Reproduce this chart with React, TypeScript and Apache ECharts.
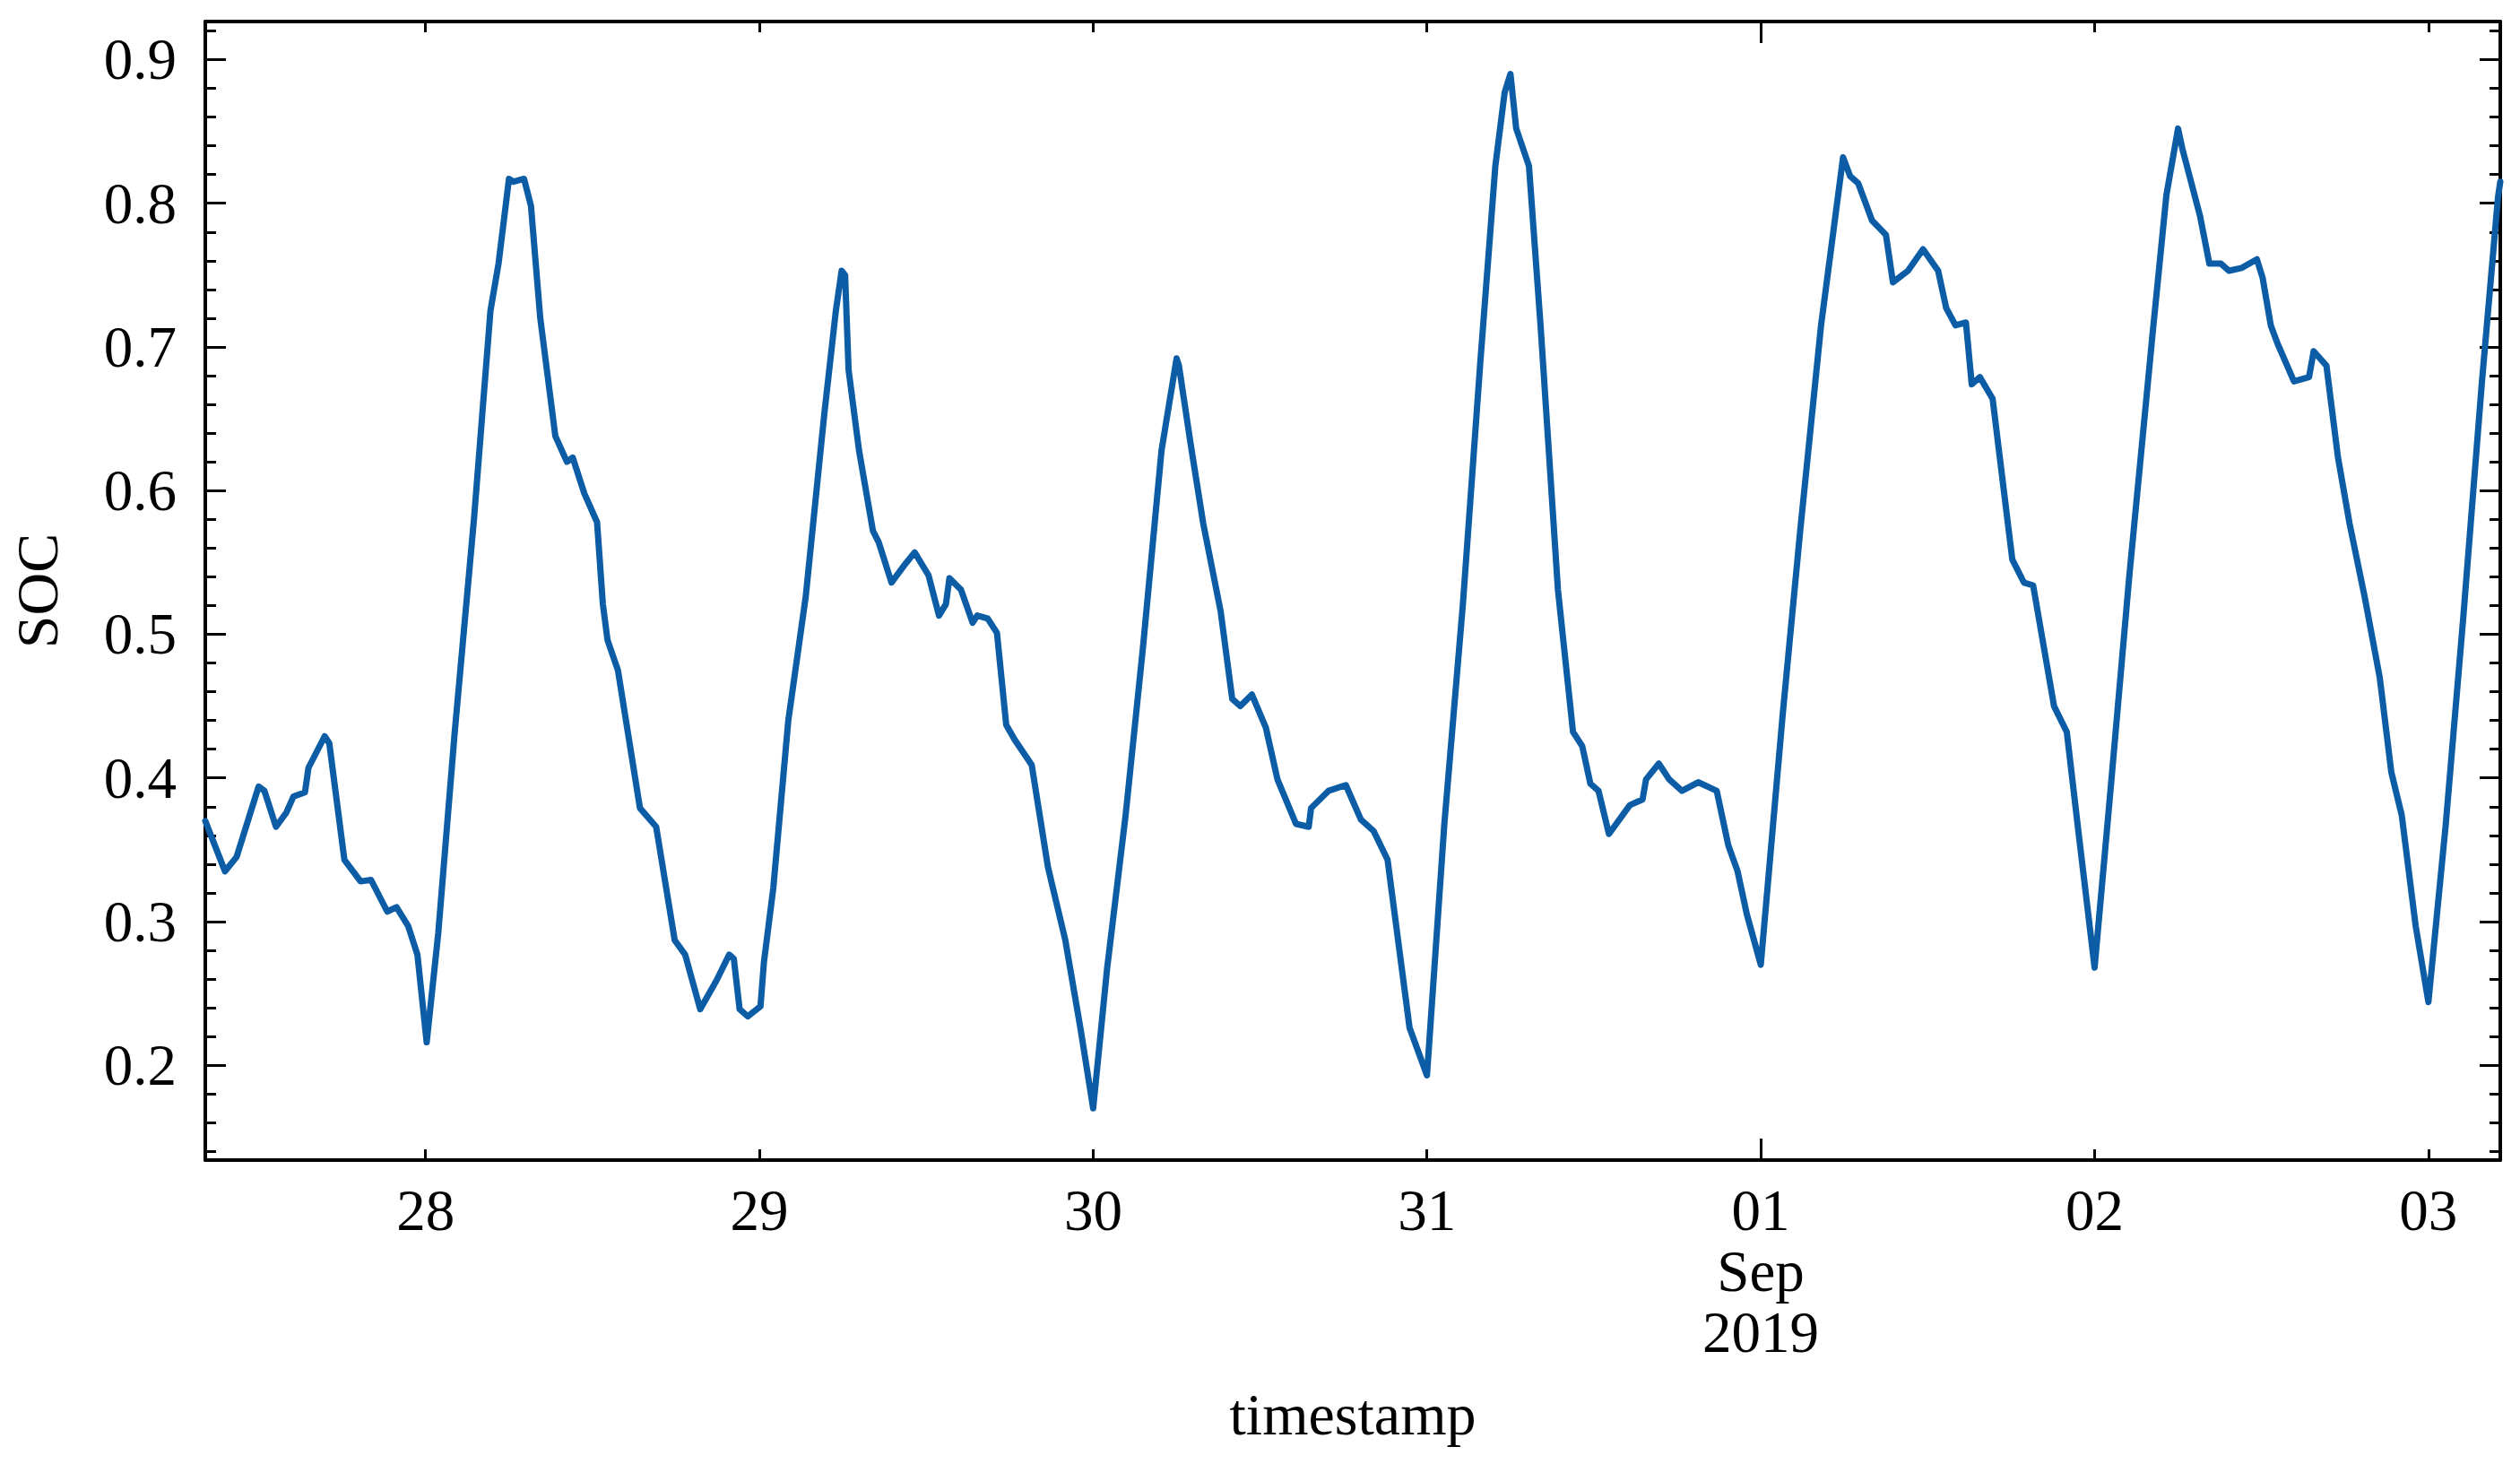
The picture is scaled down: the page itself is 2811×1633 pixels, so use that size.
import React, { useEffect, useRef } from "react";
import * as echarts from "echarts";

const times: string[] = [
  "2019-08-27 08:10", "2019-08-27 09:35", "2019-08-27 10:25", "2019-08-27 12:00", "2019-08-27 12:25",
  "2019-08-27 13:15", "2019-08-27 14:00", "2019-08-27 14:30", "2019-08-27 15:20", "2019-08-27 15:35",
  "2019-08-27 16:45", "2019-08-27 17:05", "2019-08-27 18:10", "2019-08-27 19:20", "2019-08-27 20:05",
  "2019-08-27 21:15", "2019-08-27 21:55", "2019-08-27 22:45", "2019-08-27 23:25", "2019-08-28 00:05",
  "2019-08-28 00:55", "2019-08-28 02:05", "2019-08-28 03:30", "2019-08-28 04:40", "2019-08-28 05:15",
  "2019-08-28 06:00", "2019-08-28 06:20", "2019-08-28 07:05", "2019-08-28 07:35", "2019-08-28 08:15",
  "2019-08-28 09:20", "2019-08-28 10:10", "2019-08-28 10:35", "2019-08-28 11:25", "2019-08-28 12:20",
  "2019-08-28 12:45", "2019-08-28 13:05", "2019-08-28 13:50", "2019-08-28 15:25", "2019-08-28 16:35",
  "2019-08-28 17:55", "2019-08-28 18:40", "2019-08-28 19:45", "2019-08-28 20:55", "2019-08-28 21:50",
  "2019-08-28 22:10", "2019-08-28 22:35", "2019-08-28 23:10", "2019-08-29 00:05", "2019-08-29 00:20",
  "2019-08-29 01:00", "2019-08-29 02:05", "2019-08-29 03:20", "2019-08-29 04:40", "2019-08-29 05:30",
  "2019-08-29 05:55", "2019-08-29 06:10", "2019-08-29 06:25", "2019-08-29 07:10", "2019-08-29 08:10",
  "2019-08-29 08:35", "2019-08-29 09:30", "2019-08-29 10:30", "2019-08-29 11:10", "2019-08-29 12:10",
  "2019-08-29 12:55", "2019-08-29 13:25", "2019-08-29 13:40", "2019-08-29 14:30", "2019-08-29 15:20",
  "2019-08-29 15:40", "2019-08-29 16:25", "2019-08-29 17:05", "2019-08-29 17:45", "2019-08-29 18:20",
  "2019-08-29 19:35", "2019-08-29 20:45", "2019-08-29 22:00", "2019-08-29 23:05", "2019-08-30 00:00",
  "2019-08-30 01:00", "2019-08-30 02:20", "2019-08-30 03:35", "2019-08-30 04:55", "2019-08-30 06:00",
  "2019-08-30 06:10", "2019-08-30 07:00", "2019-08-30 07:55", "2019-08-30 09:10", "2019-08-30 10:00",
  "2019-08-30 10:35", "2019-08-30 11:25", "2019-08-30 12:25", "2019-08-30 13:15", "2019-08-30 14:35",
  "2019-08-30 15:30", "2019-08-30 15:40", "2019-08-30 16:55", "2019-08-30 18:10", "2019-08-30 19:15",
  "2019-08-30 20:10", "2019-08-30 21:10", "2019-08-30 22:45", "2019-08-31 00:00", "2019-08-31 01:15",
  "2019-08-31 02:35", "2019-08-31 03:50", "2019-08-31 04:55", "2019-08-31 05:35", "2019-08-31 06:00",
  "2019-08-31 06:25", "2019-08-31 07:20", "2019-08-31 08:10", "2019-08-31 09:25", "2019-08-31 10:30",
  "2019-08-31 11:10", "2019-08-31 11:45", "2019-08-31 12:20", "2019-08-31 13:05", "2019-08-31 14:35",
  "2019-08-31 15:30", "2019-08-31 15:45", "2019-08-31 16:40", "2019-08-31 17:25", "2019-08-31 18:20",
  "2019-08-31 19:30", "2019-08-31 20:50", "2019-08-31 21:40", "2019-08-31 22:20", "2019-08-31 23:00",
  "2019-09-01 00:00", "2019-09-01 01:35", "2019-09-01 02:50", "2019-09-01 04:20", "2019-09-01 05:55",
  "2019-09-01 06:25", "2019-09-01 07:00", "2019-09-01 08:00", "2019-09-01 09:00", "2019-09-01 09:30",
  "2019-09-01 10:35", "2019-09-01 11:40", "2019-09-01 12:45", "2019-09-01 13:20", "2019-09-01 14:00",
  "2019-09-01 14:45", "2019-09-01 15:10", "2019-09-01 15:45", "2019-09-01 16:40", "2019-09-01 18:05",
  "2019-09-01 18:55", "2019-09-01 19:35", "2019-09-01 21:05", "2019-09-01 22:00", "2019-09-01 22:50",
  "2019-09-02 00:00", "2019-09-02 01:10", "2019-09-02 02:30", "2019-09-02 04:10", "2019-09-02 05:10",
  "2019-09-02 06:00", "2019-09-02 06:20", "2019-09-02 07:35", "2019-09-02 08:15", "2019-09-02 09:05",
  "2019-09-02 09:40", "2019-09-02 10:35", "2019-09-02 11:40", "2019-09-02 12:05", "2019-09-02 12:40",
  "2019-09-02 13:10", "2019-09-02 14:20", "2019-09-02 15:25", "2019-09-02 15:45", "2019-09-02 16:40",
  "2019-09-02 17:30", "2019-09-02 18:20", "2019-09-02 19:25", "2019-09-02 20:30", "2019-09-02 21:20",
  "2019-09-02 22:05", "2019-09-02 23:05", "2019-09-03 00:00", "2019-09-03 01:15", "2019-09-03 02:30",
  "2019-09-03 03:50", "2019-09-03 05:00", "2019-09-03 05:10",
];

const soc: number[] = [
  0.370, 0.335, 0.345, 0.394, 0.391,
  0.366, 0.376, 0.387, 0.390, 0.407,
  0.429, 0.424, 0.343, 0.328, 0.329,
  0.307, 0.310, 0.297, 0.277, 0.216,
  0.292, 0.430, 0.582, 0.725, 0.758,
  0.817, 0.815, 0.817, 0.798, 0.720,
  0.638, 0.620, 0.623, 0.598, 0.578,
  0.521, 0.496, 0.475, 0.379, 0.366,
  0.287, 0.277, 0.239, 0.259, 0.277,
  0.274, 0.239, 0.234, 0.241, 0.272,
  0.323, 0.440, 0.526, 0.653, 0.725,
  0.753, 0.750, 0.684, 0.628, 0.572,
  0.564, 0.536, 0.549, 0.557, 0.541,
  0.513, 0.521, 0.539, 0.531, 0.508,
  0.513, 0.511, 0.501, 0.437, 0.427,
  0.409, 0.338, 0.287, 0.226, 0.170,
  0.267, 0.374, 0.491, 0.628, 0.692,
  0.687, 0.633, 0.577, 0.516, 0.455,
  0.450, 0.458, 0.435, 0.399, 0.368,
  0.366, 0.379, 0.391, 0.395, 0.371,
  0.363, 0.343, 0.226, 0.193, 0.368,
  0.521, 0.689, 0.826, 0.877, 0.890,
  0.852, 0.826, 0.715, 0.531, 0.432,
  0.422, 0.396, 0.391, 0.361, 0.381,
  0.385, 0.399, 0.410, 0.399, 0.391,
  0.397, 0.391, 0.353, 0.335, 0.305,
  0.270, 0.445, 0.572, 0.715, 0.832,
  0.819, 0.814, 0.788, 0.778, 0.745,
  0.753, 0.768, 0.753, 0.727, 0.715,
  0.717, 0.674, 0.679, 0.664, 0.552,
  0.536, 0.534, 0.450, 0.432, 0.363,
  0.268, 0.394, 0.541, 0.709, 0.806,
  0.852, 0.837, 0.791, 0.758, 0.758,
  0.753, 0.755, 0.761, 0.748, 0.715,
  0.702, 0.676, 0.679, 0.697, 0.687,
  0.623, 0.577, 0.526, 0.470, 0.404,
  0.374, 0.297, 0.244, 0.368, 0.511,
  0.674, 0.804, 0.815,
];

const dayTickDates: string[] = [
  "2019-08-28 00:00", "2019-08-29 00:00", "2019-08-30 00:00", "2019-08-31 00:00",
  "2019-09-01 00:00", "2019-09-02 00:00", "2019-09-03 00:00",
];
const dayTickLabels: string[] = ["28", "29", "30", "31", "01\nSep\n2019", "02", "03"];
const monthTickDates: string[] = ["2019-09-01 00:00"];

const yMin = 0.134;
const yMax = 0.9265;

function parseLocal(s: string): number {
  const [d, t] = s.split(" ");
  const [y, m, day] = d.split("-").map(Number);
  const [hh, mm] = t.split(":").map(Number);
  return new Date(y, m - 1, day, hh, mm).getTime();
}

const FONT = "'Liberation Serif', 'Times New Roman', serif";

export default function App() {
  const ref = useRef<HTMLDivElement>(null);
  useEffect(() => {
    if (!ref.current) return;
    const chart = echarts.init(ref.current, null, { renderer: "svg" });
    const tx = times.map(parseLocal);
    const xMin = tx[0];
    const xMax = tx[tx.length - 1];
    const dayTicks = dayTickDates.map(parseLocal);
    const monthTicks = monthTickDates.map(parseLocal);
    const labelOf = (v: number) => {
      const i = dayTicks.indexOf(v);
      return i >= 0 ? dayTickLabels[i] : "";
    };
    const axisColor = "#000";
    const AXW = 4;
    const baseX = {
      type: "value",
      min: xMin,
      max: xMax,
      scale: true,
      gridIndex: 0,
      splitLine: { show: false },
      minorTick: { show: false },
      axisPointer: { show: false },
    };
    const option: any = {
      animation: false,
      backgroundColor: "#fff",
      grid: { left: 225, top: 24, width: 2564, height: 1270, containLabel: false },
      xAxis: [
        {
          ...baseX,
          position: "bottom",
          axisLine: { show: true, onZero: false, lineStyle: { color: axisColor, width: AXW } },
          axisTick: { show: true, inside: true, length: 12, lineStyle: { color: axisColor, width: 3 }, customValues: dayTicks },
          axisLabel: {
            show: true,
            customValues: dayTicks,
            formatter: (v: number) => labelOf(v),
            color: "#000",
            fontFamily: FONT,
            fontSize: 65,
            lineHeight: 68,
            margin: 22,
          },
          name: "timestamp",
          nameLocation: "middle",
          nameGap: 250,
          nameTextStyle: { color: "#000", fontFamily: FONT, fontSize: 66 },
        },
        {
          ...baseX,
          position: "bottom",
          axisLine: { show: false, onZero: false },
          axisTick: { show: true, inside: true, length: 24, lineStyle: { color: axisColor, width: 3 }, customValues: monthTicks },
          axisLabel: { show: false },
        },
        {
          ...baseX,
          position: "top",
          axisLine: { show: true, onZero: false, lineStyle: { color: axisColor, width: AXW } },
          axisTick: { show: true, inside: true, length: 12, lineStyle: { color: axisColor, width: 3 }, customValues: dayTicks },
          axisLabel: { show: false },
        },
        {
          ...baseX,
          position: "top",
          axisLine: { show: false, onZero: false },
          axisTick: { show: true, inside: true, length: 24, lineStyle: { color: axisColor, width: 3 }, customValues: monthTicks },
          axisLabel: { show: false },
        },
      ],
      yAxis: [
        {
          type: "value",
          position: "left",
          min: yMin,
          max: yMax,
          splitNumber: 8,
          splitLine: { show: false },
          axisLine: { show: true, onZero: false, lineStyle: { color: axisColor, width: AXW } },
          axisTick: { show: true, inside: true, length: 23, lineStyle: { color: axisColor, width: 3 } },
          minorTick: { show: true, splitNumber: 5, length: 12, lineStyle: { color: axisColor, width: 3 } },
          axisLabel: {
            show: true,
            showMinLabel: false,
            showMaxLabel: false,
            color: "#000",
            fontFamily: FONT,
            fontSize: 65,
            margin: 32,
            formatter: (v: number) => v.toFixed(1),
          },
          name: "SOC",
          nameLocation: "middle",
          nameRotate: 90,
          nameGap: 155,
          nameTextStyle: { color: "#000", fontFamily: FONT, fontSize: 66 },
        },
        {
          type: "value",
          position: "right",
          min: yMin,
          max: yMax,
          splitNumber: 8,
          splitLine: { show: false },
          axisLine: { show: true, onZero: false, lineStyle: { color: axisColor, width: AXW } },
          axisTick: { show: true, inside: true, length: 23, lineStyle: { color: axisColor, width: 3 } },
          minorTick: { show: true, splitNumber: 5, length: 12, lineStyle: { color: axisColor, width: 3 } },
          axisLabel: { show: false },
        },
      ],
      series: [
        {
          type: "line",
          xAxisIndex: 0,
          yAxisIndex: 0,
          data: tx.map((t, i) => [t, soc[i]]),
          showSymbol: false,
          symbol: "none",
          smooth: false,
          lineStyle: { color: "#0C5DA5", width: 7, join: "round", cap: "round" },
          itemStyle: { color: "#0C5DA5" },
        },
      ],
    };
    chart.setOption(option);
    return () => chart.dispose();
  }, []);
  return (
    <div
      ref={ref}
      style={{ position: "fixed", left: 0, top: 0, width: "2811px", height: "1633px", background: "#fff" }}
    />
  );
}
